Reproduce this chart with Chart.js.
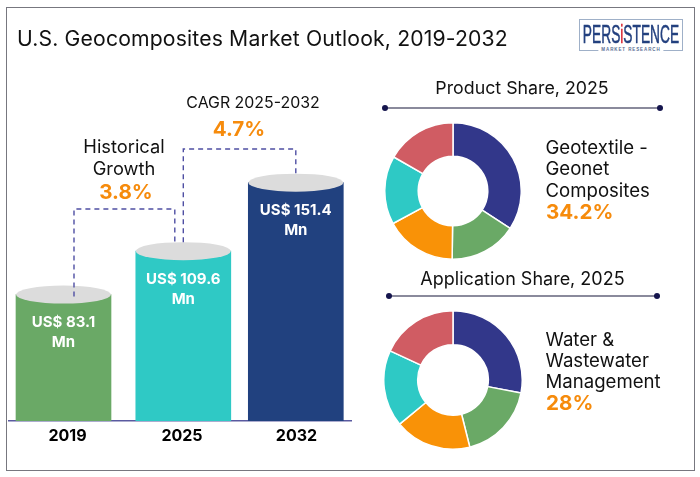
<!DOCTYPE html>
<html><head><meta charset="utf-8">
<script src="https://cdn.jsdelivr.net/npm/chart.js@4"></script>
<style>
html,body{margin:0;padding:0;background:#fff;width:700px;height:477px;overflow:hidden}
body{position:relative;font-family:Inter,"Noto Sans",sans-serif;color:#111}
canvas{position:absolute}
.frame{position:absolute;left:6px;top:7px;width:686.5px;height:461.5px;border:1.5px solid #77777f}
.t{position:absolute;white-space:nowrap;line-height:22px;height:22px;margin-top:-11px}
.c{transform:translateX(-50%)}
.o{color:#f68b0c;font-weight:700;font-size:20.6px}
.rule{position:absolute;height:2px;background:#8a8a9c}
.rule:before,.rule:after{content:"";position:absolute;top:-2px;width:6px;height:6px;border-radius:50%;background:#15154d}
.rule:before{left:-3px}.rule:after{right:-3px}
.logo{position:absolute;left:579px;top:19px;width:104px;height:32px;border:1px solid #9fb0c8;box-sizing:border-box}
</style></head><body>
<div class="frame"></div>
<canvas id="bars" width="700" height="477" style="left:0;top:0"></canvas>
<canvas id="d1" width="138" height="138" style="left:384px;top:122px"></canvas>
<canvas id="d2" width="140" height="140" style="left:383px;top:310px"></canvas>

<div class="t" style="left:17px;top:38px;font-size:21.2px;letter-spacing:.15px">U.S. Geocomposites Market Outlook, 2019-2032</div>
<div class="t c" style="left:253px;top:103px;font-size:15.9px">CAGR 2025-2032</div>
<div class="t c o" style="left:239px;top:129px">4.7%</div>
<div class="t c" style="left:124px;top:146px;font-size:18.3px">Historical</div>
<div class="t c" style="left:124px;top:168px;font-size:18.3px">Growth</div>
<div class="t c o" style="left:126px;top:192px">3.8%</div>

<div class="t c" style="left:522px;top:88px;font-size:17.8px">Product Share, 2025</div>
<div class="rule" style="left:385px;top:107px;width:275px"></div>
<div class="t" style="left:545.5px;top:147px;font-size:18.6px">Geotextile -</div>
<div class="t" style="left:545.5px;top:168px;font-size:18.6px">Geonet</div>
<div class="t" style="left:545.5px;top:190px;font-size:18.6px">Composites</div>
<div class="t o" style="left:546px;top:212px">34.2%</div>

<div class="t c" style="left:522.5px;top:279px;font-size:18px">Application Share, 2025</div>
<div class="rule" style="left:389px;top:295px;width:268px"></div>
<div class="t" style="left:545.5px;top:339px;font-size:18.6px">Water &amp;</div>
<div class="t" style="left:545.5px;top:360px;font-size:18.6px">Wastewater</div>
<div class="t" style="left:545.5px;top:381px;font-size:18.6px">Management</div>
<div class="t o" style="left:546px;top:403px">28%</div>

<div class="logo"></div>
<div class="t c" style="left:631px;top:33.5px;font:400 25px 'Liberation Sans',sans-serif;line-height:22px;color:#23407f;transform:translateX(-50%) scaleX(.55);-webkit-text-stroke:.5px #23407f">PERS<span style="color:#d8232f;-webkit-text-stroke:.5px #d8232f">i</span>STENCE</div>
<div class="t c" style="left:631px;top:50px;font:700 4.5px 'Liberation Sans',sans-serif;line-height:6px;height:6px;margin-top:-3px;background:#fff;padding:0 3px;color:#5a6f95;letter-spacing:.9px">MARKET RESEARCH</div>

<script>
// ---- data ----
const years = ["2019", "2025", "2032"];
const marketValues = [83.1, 109.6, 151.4];
const barColors = ["#6aa966", "#2fc9c5", "#21417f"];

const shareColors = ["#32378a", "#6aa966", "#f99207", "#2ec9c5", "#d05c63"];
const productShares = [34.2, 16.0, 16.9, 16.2, 16.7];
const applicationShares = [28.0, 18.1, 17.9, 17.9, 18.1];
// --------------

Chart.defaults.devicePixelRatio = 1;
const barNudge = [-2, 3.3, 1.3];

const cylinder = {
  id: "cylinder",
  afterDatasetsUpdate(chart) {
    chart.getDatasetMeta(0).data.forEach((b, i) => { b.x += barNudge[i]; });
  },
  afterDatasetsDraw(chart) {
    const { ctx } = chart;
    const bars = chart.getDatasetMeta(0).data;
    ctx.save();
    bars.forEach(b => {
      ctx.fillStyle = "#dcdcdc";
      ctx.beginPath();
      ctx.ellipse(b.x, b.y, 47.5, 9, 0, 0, Math.PI * 2);
      ctx.fill();
    });
    // connectors between bars
    ctx.strokeStyle = "#4f4fa3";
    ctx.lineWidth = 1.4;
    ctx.setLineDash([5, 4]);
    const path = pts => {
      ctx.beginPath();
      pts.forEach((p, i) => i ? ctx.lineTo(p[0], p[1]) : ctx.moveTo(p[0], p[1]));
      ctx.stroke();
    };
    path([[bars[0].x + 10.5, bars[0].y + 2], [bars[0].x + 10.5, 209], [bars[1].x - 8.5, 209], [bars[1].x - 8.5, bars[1].y - 9]]);
    path([[bars[1].x, bars[1].y - 9], [bars[1].x, 149], [bars[2].x, 149], [bars[2].x, bars[2].y - 7]]);
    ctx.setLineDash([]);
    // value labels
    ctx.fillStyle = "#fff";
    ctx.font = "700 15px Inter, 'Noto Sans', sans-serif";
    ctx.textAlign = "center";
    ctx.textBaseline = "middle";
    bars.forEach((b, i) => {
      ctx.fillText("US$ " + marketValues[i], b.x, b.y + 28);
      ctx.fillText("Mn", b.x, b.y + 48);
    });
    ctx.restore();
  }
};

new Chart(document.getElementById("bars"), {
  type: "bar",
  data: { labels: years, datasets: [{ data: marketValues, backgroundColor: barColors, barThickness: 95, borderWidth: 0 }] },
  options: {
    responsive: false,
    animation: false,
    layout: { padding: { left: 8.25, right: 348.25, top: 103, bottom: 26 } },
    plugins: { legend: { display: false }, tooltip: { enabled: false } },
    scales: {
      y: { display: false, min: 6, max: 200 },
      x: {
        afterFit(s) { s.height = 30; },
        grid: { display: false, drawTicks: false },
        border: { color: "#5a5aa0", width: 1.5 },
        ticks: { color: "#000", padding: 6, labelOffset: 2, maxRotation: 0, font: { family: "Inter, 'Noto Sans', sans-serif", size: 16, weight: "700" } }
      }
    }
  },
  plugins: [cylinder]
});

function donut(id, values) {
  new Chart(document.getElementById(id), {
    type: "doughnut",
    data: { datasets: [{ data: values, backgroundColor: shareColors, borderColor: "#fff", borderWidth: 1.5 }] },
    options: {
      responsive: false, animation: false, cutout: "51%",
      plugins: { legend: { display: false }, tooltip: { enabled: false } }
    }
  });
}
donut("d1", productShares);
donut("d2", applicationShares);
</script>
</body></html>
